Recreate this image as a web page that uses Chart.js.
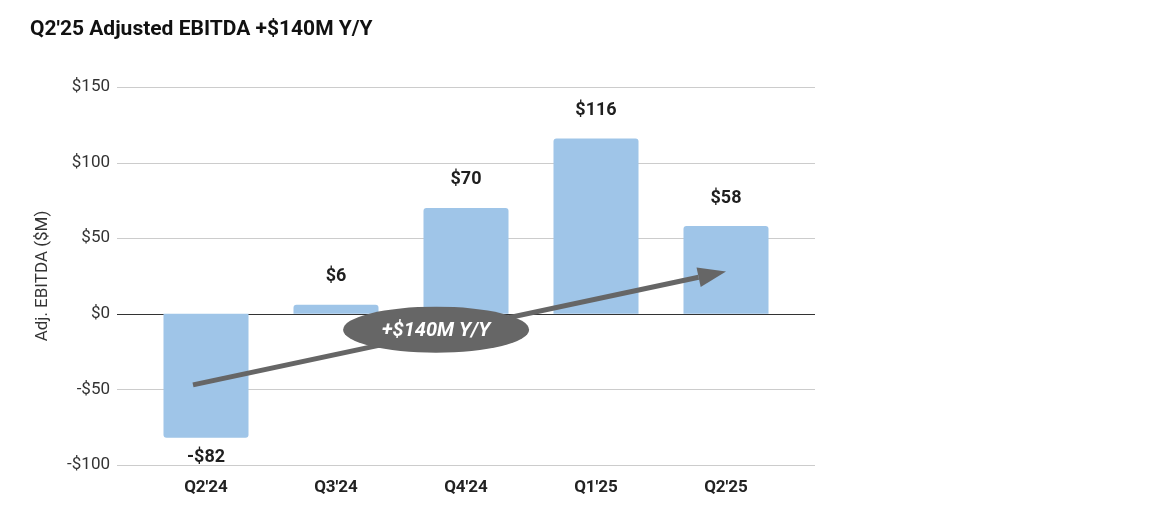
<!DOCTYPE html>
<html>
<head>
<meta charset="utf-8">
<script src="https://cdn.jsdelivr.net/npm/chart.js@4.4.1/dist/chart.umd.min.js"></script>
<style>
  html, body { margin: 0; padding: 0; background: #fff; }
  #wrap { width: 1168px; height: 513px; }
</style>
</head>
<body>
<div id="wrap"><canvas id="c" width="1168" height="513"></canvas></div>
<script>
const categories = ["Q2'24", "Q3'24", "Q4'24", "Q1'25", "Q2'25"];
const ebitda = [-82, 6, 70, 116, 58];
const yTicks = [-100, -50, 0, 50, 100, 150];
const chartTitle = "Q2'25 Adjusted EBITDA +$140M Y/Y";
const yAxisTitle = "Adj. EBITDA ($M)";
const calloutText = "+$140M Y/Y";

// annotation placement (in data units: category index, value)
const arrowSpec = { from: [-0.1, -47], to: [4.0, 28] };
const ellipseSpec = { at: [1.77, -10.5], rx: 93, ry: 23 };

const fmt = v => (v < 0 ? '-$' : '$') + Math.abs(v);

const gridPlugin = {
  id: 'grid',
  beforeDatasetsDraw(chart) {
    const { ctx, chartArea, scales } = chart;
    ctx.save();
    yTicks.forEach(t => {
      const y = Math.round(scales.y.getPixelForValue(t)) + 0.5;
      ctx.beginPath();
      ctx.strokeStyle = t === 0 ? '#333333' : '#cccccc';
      ctx.lineWidth = 1;
      ctx.moveTo(chartArea.left - 24, y);
      ctx.lineTo(chartArea.right + 24, y);
      ctx.stroke();
    });
    ctx.restore();
  }
};

const labelPlugin = {
  id: 'labels',
  afterDatasetsDraw(chart) {
    const { ctx, scales } = chart;
    const meta = chart.getDatasetMeta(0);
    ctx.save();
    ctx.font = 'bold 18px Roboto';
    ctx.fillStyle = '#1f1f1f';
    ctx.textAlign = 'center';
    ctx.textBaseline = 'middle';
    meta.data.forEach((bar, i) => {
      const v = ebitda[i];
      const y = v >= 0 ? bar.y - 28 : bar.y + 20;
      ctx.fillText(fmt(v), bar.x, y);
    });

    // arrow
    const x1 = scales.x.getPixelForValue(arrowSpec.from[0]);
    const y1 = scales.y.getPixelForValue(arrowSpec.from[1]);
    const x2 = scales.x.getPixelForValue(arrowSpec.to[0]);
    const y2 = scales.y.getPixelForValue(arrowSpec.to[1]);
    const ang = Math.atan2(y2 - y1, x2 - x1);
    const headLen = 28, headW = 10;
    const bx = x2 - headLen * Math.cos(ang), by = y2 - headLen * Math.sin(ang);
    ctx.strokeStyle = '#666666';
    ctx.fillStyle = '#666666';
    ctx.lineWidth = 5;
    ctx.beginPath();
    ctx.moveTo(x1, y1);
    ctx.lineTo(bx, by);
    ctx.stroke();
    ctx.beginPath();
    ctx.moveTo(x2, y2);
    ctx.lineTo(bx + headW * Math.sin(ang), by - headW * Math.cos(ang));
    ctx.lineTo(bx - headW * Math.sin(ang), by + headW * Math.cos(ang));
    ctx.closePath();
    ctx.fill();

    // ellipse callout
    const ex = scales.x.getPixelForValue(ellipseSpec.at[0]);
    const ey = scales.y.getPixelForValue(ellipseSpec.at[1]);
    ctx.beginPath();
    ctx.ellipse(ex, ey, ellipseSpec.rx, ellipseSpec.ry, 0, 0, Math.PI * 2);
    ctx.fill();
    ctx.fillStyle = '#ffffff';
    ctx.font = 'italic bold 20px Roboto';
    ctx.fillText(calloutText, ex, ey + 1);
    ctx.restore();
  }
};

new Chart(document.getElementById('c'), {
  type: 'bar',
  data: {
    labels: categories,
    datasets: [{
      data: ebitda,
      backgroundColor: '#9fc5e8',
      borderRadius: 3,
      borderSkipped: 'start',
      barPercentage: 0.654,
      categoryPercentage: 1.0
    }]
  },
  options: {
    responsive: false,
    animation: false,
    devicePixelRatio: 1,
    layout: { padding: { left: 30, right: 377, top: 0, bottom: 0 } },
    plugins: {
      legend: { display: false },
      tooltip: { enabled: false },
      title: {
        display: true,
        text: chartTitle,
        align: 'start',
        color: '#111111',
        font: { family: 'Roboto', size: 21, weight: 'bold', lineHeight: 1.2 },
        padding: { top: 17.4, bottom: 44.4 }
      }
    },
    scales: {
      x: {
        grid: { display: false, drawTicks: false },
        border: { display: false },
        ticks: {
          color: '#222222',
          font: { family: 'Roboto', size: 17, weight: 'bold' },
          padding: 13,
          maxRotation: 0
        },
        afterFit(s) { s.height = 48; }
      },
      y: {
        min: -100,
        max: 150,
        afterBuildTicks(s) { s.ticks = yTicks.map(v => ({ value: v })); },
        grid: { display: false, drawTicks: false },
        border: { display: false },
        ticks: {
          color: '#333333',
          font: { family: 'Roboto', size: 17 },
          padding: 31,
          callback: v => fmt(v)
        },
        title: {
          display: true,
          text: yAxisTitle,
          color: '#333333',
          font: { family: 'Roboto', size: 17 },
          padding: { top: 3, bottom: 0 }
        },
        afterFit(s) { s.width = 111; }
      }
    }
  },
  plugins: [gridPlugin, labelPlugin]
});
</script>
</body>
</html>
